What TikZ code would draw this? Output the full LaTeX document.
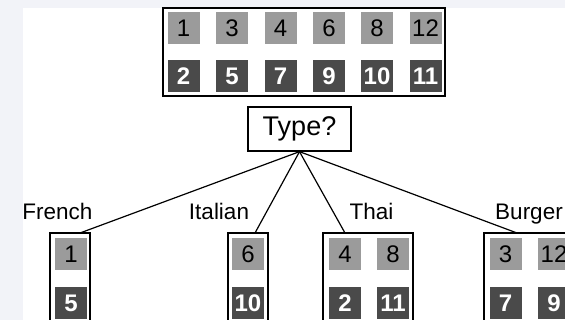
\documentclass[tikz,border=0pt]{standalone}
\usepackage{fontspec}
\setmainfont{Liberation Sans}
\definecolor{pagebg}{RGB}{242,243,248}
\definecolor{lightsq}{RGB}{155,155,155}
\definecolor{darksq}{RGB}{74,74,74}
\tikzset{
  lsq/.style={fill=lightsq, minimum size=32pt, inner sep=0pt, text=black,
    font=\fontsize{24}{24}\selectfont},
  dsq/.style={fill=darksq, minimum size=32pt, inner sep=0pt, text=white,
    font=\fontsize{24}{24}\selectfont\bfseries},
  frame/.style={draw=black, line width=1.3pt, inner sep=0pt},
  lbl/.style={anchor=base, inner sep=0pt, font=\fontsize{22.5}{22.5}\selectfont},
  edge/.style={draw=black, line width=1.2pt}
}
\begin{document}
\begin{tikzpicture}[x=1pt,y=-1pt]
\useasboundingbox (0,0) rectangle (565,320);
\fill[pagebg] (0,0) rectangle (565,320);
\fill[white] (23,8) rectangle (565,320);

% top box
\node[frame, minimum width=282pt, minimum height=88pt] (top) at (304,52) {};
\foreach \n/\x in {1/183.5,3/232,4/280.5,6/329,8/377,12/425.5}
  \node[lsq] (t\n) at (\x,28) {\n};
\foreach \n/\x in {2/183.5,5/232,7/280.5,9/329,10/377,11/425.5}
  \node[dsq] (t\n) at (\x,76) {\n};

% question node
\node[frame, minimum width=103pt, minimum height=44pt, font=\fontsize{27}{27}\selectfont] (type) at (299.5,129) {Type?};

% child boxes
\node[frame, minimum width=40pt, minimum height=90pt] (fr) at (70,278) {};
\node[lsq] (f1) at (71,254) {1};
\node[dsq] (f5) at (71,303) {5};

\node[frame, minimum width=40pt, minimum height=90pt] (it) at (248,278) {};
\node[lsq] (i6) at (248,254) {6};
\node[dsq] (i10) at (248,303) {10};

\node[frame, minimum width=90pt, minimum height=90pt] (th) at (368,278) {};
\node[lsq] (h4) at (345,254) {4};
\node[lsq] (h8) at (393,254) {8};
\node[dsq] (h2) at (345,303) {2};
\node[dsq] (h11) at (393,303) {11};

\node[frame, minimum width=90pt, minimum height=90pt] (bu) at (529,278) {};
\node[lsq] (b3) at (505.5,254) {3};
\node[lsq] (b12) at (554,254) {12};
\node[dsq] (b7) at (505.5,303) {7};
\node[dsq] (b9) at (554,303) {9};

% labels
\node[lbl] (lfr) at (57.5,220) {French};
\node[lbl] (lit) at (219,220) {Italian};
\node[lbl] (lth) at (371.5,220) {Thai};
\node[lbl] (lbu) at (529,220) {Burger};

% edge ends
\coordinate (efr) at (80,233);
\coordinate (eit) at (255,233);
\coordinate (eth) at (345,233);
\coordinate (ebu) at (517,233);
\draw[edge] (type.south) -- (efr);
\draw[edge] (type.south) -- (eit);
\draw[edge] (type.south) -- (eth);
\draw[edge] (type.south) -- (ebu);
\end{tikzpicture}
\end{document}
